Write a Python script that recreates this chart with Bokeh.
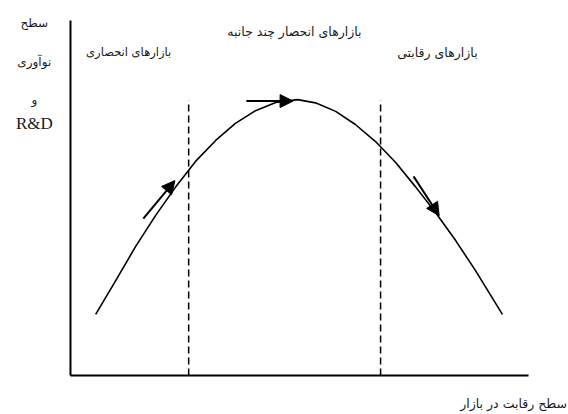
from bokeh.plotting import figure
from bokeh.models import Range1d, Arrow, NormalHead, Label
from bokeh.embed import file_html
from bokeh.resources import INLINE

# Level of competition in the market (x) vs. level of innovation and R&D (y)
competition = [5.5, 10, 14.2, 18.6, 22.9, 27.3, 31.7, 36, 40.4, 44.8, 49.6,
               53.5, 57.9, 62.2, 66.6, 71, 75.3, 79.7, 84.1, 88.4, 94.3]
innovation = [17.2, 27.0, 36.3, 45.1, 53.0, 60.3, 66.2, 71.0, 74.6, 76.9, 77.7,
              76.8, 74.4, 70.7, 65.9, 60.0, 53.2, 45.9, 38.0, 29.6, 17.2]

# Extent of the two axes
axis_min = 0
axis_max = 100

# Boundaries between market structures
boundaries = [25.8, 67.7]
boundary_top = 77.5

# Direction arrows along the curve: (x_start, y_start, x_end, y_end)
arrow_x_start = [15.9, 38.4, 74.9]
arrow_y_start = [44.2, 77.3, 56.1]
arrow_x_end = [22.8, 48.6, 80.5]
arrow_y_end = [54.9, 77.3, 45.0]

region_names = ["بازارهای انحصاری", "بازارهای انحصار چند جانبه", "بازارهای رقابتی"]
y_title_lines = ["سطح", "نوآوری", "و", "R&D"]
x_title = "سطح رقابت در بازار"

p = figure(width=568, height=414, output_backend="svg", toolbar_location=None,
           x_range=Range1d(-15.28, 108.73), y_range=Range1d(-10.99, 105.63),
           min_border=0)
p.axis.visible = False
p.background_fill_color = "white"
p.border_fill_color = "white"
p.outline_line_color = None
p.grid.visible = False

# Axis lines
p.segment(x0=[axis_min, axis_min], y0=[axis_min, axis_min],
          x1=[axis_min, axis_max], y1=[axis_max, axis_min],
          line_color="black", line_width=2)

# Market structure boundaries
for b in boundaries:
    p.line([b, b], [axis_min, boundary_top], line_color="black", line_width=1.5,
           line_dash="7 4")

# Inverted-U relationship
p.line(competition, innovation, line_color="black", line_width=1.6)

for xs, ys, xe, ye in zip(arrow_x_start, arrow_y_start, arrow_x_end, arrow_y_end):
    p.add_layout(Arrow(end=NormalHead(size=13, fill_color="black", line_color="black"),
                       x_start=xs, y_start=ys, x_end=xe, y_end=ye,
                       line_color="black", line_width=2))

fa_font = "DejaVu Sans"
region_pos = [(12.7, 91.0), (48.9, 96.9), (80.1, 91.0)]
region_sizes = ["11.5px", "12.5px", "12.5px"]
for name, (x, y), fs in zip(region_names, region_pos, region_sizes):
    p.add_layout(Label(x=x, y=y, text=name, text_align="center",
                       text_baseline="middle", text_font=fa_font,
                       text_font_size=fs, text_color="#1a1a1a"))

y_title_pos = [99.4, 88.2, 77.5, 71.0]
for line, y in zip(y_title_lines, y_title_pos):
    latin = line == "R&D"
    p.add_layout(Label(x=-7.9, y=y, text=line, text_align="center",
                       text_baseline="middle",
                       text_font="Liberation Serif" if latin else fa_font,
                       text_font_size="17px" if latin else "12px",
                       text_color="#1a1a1a"))

p.add_layout(Label(x=108.4, y=-7.9, text=x_title, text_align="right",
                   text_baseline="middle", text_font=fa_font,
                   text_font_size="12.5px", text_color="#1a1a1a"))

open("out.html", "w").write(file_html(p, INLINE))
